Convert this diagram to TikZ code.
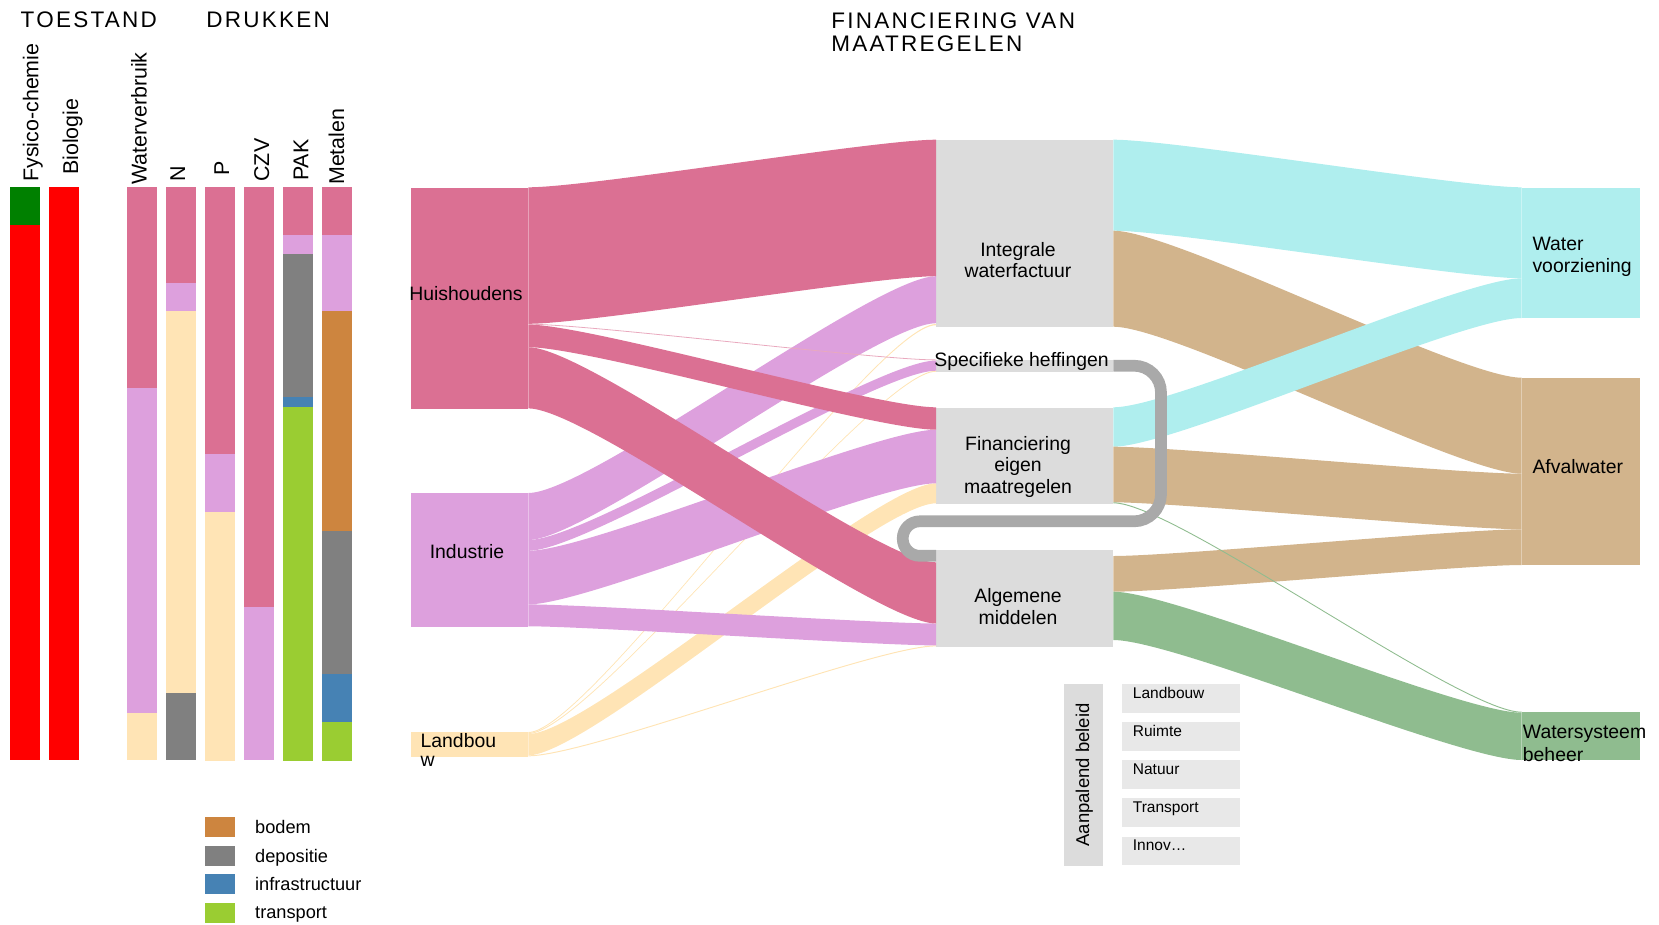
\documentclass[tikz,border=0pt]{standalone}
\usepackage{fontspec}
\setmainfont{Liberation Sans}
\newfontfamily\headfont[LetterSpace=10]{Liberation Sans}
\usetikzlibrary{calc}
\definecolor{huis}{HTML}{DB7093}
\definecolor{indu}{HTML}{DDA0DD}
\definecolor{landb}{HTML}{FFE4B5}
\definecolor{midgrey}{HTML}{DCDCDC}
\definecolor{lightbox}{HTML}{E8E8E8}
\definecolor{loopgrey}{HTML}{A9A9A9}
\definecolor{watv}{HTML}{AFEEEE}
\definecolor{afvw}{HTML}{D2B48C}
\definecolor{wsys}{HTML}{8FBC8F}
\definecolor{goed}{HTML}{008000}
\definecolor{slecht}{HTML}{FF0000}
\definecolor{bodem}{HTML}{CD853F}
\definecolor{depo}{HTML}{808080}
\definecolor{infra}{HTML}{4682B4}
\definecolor{transp}{HTML}{9ACD32}
\tikzstyle{sankey}=[inner sep=0pt, anchor=north west, minimum width=117.5pt]
\tikzstyle{midbox}=[inner sep=0pt, anchor=north west, minimum width=177pt, fill=midgrey]
\tikzstyle{endbox}=[inner sep=0pt, anchor=north west, minimum width=118.5pt]
\tikzstyle{lbl}=[inner sep=0pt, font=\fontsize{19.4}{21.7}\selectfont]
\tikzstyle{barlbl}=[inner sep=0pt, rotate=90, anchor=base west, font=\fontsize{21.4}{24}\selectfont]
\tikzstyle{heading}=[inner sep=0pt, align=left, font=\headfont\fontsize{22.5}{23.4}\selectfont]
\tikzstyle{legbox}=[inner sep=0pt, anchor=north west, minimum width=30pt, minimum height=20pt]
\tikzstyle{legtxt}=[inner sep=0pt, anchor=base west, font=\fontsize{18.2}{20}\selectfont]
\tikzstyle{polbox}=[inner sep=0pt, anchor=north west, minimum width=118.3pt, minimum height=28.5pt, fill=lightbox]
\tikzstyle{poltxt}=[inner sep=0pt, anchor=base west, font=\fontsize{15.5}{17}\selectfont]
\tikzstyle{loopline}=[draw=loopgrey, line width=11.7pt]
% colour, source, top, bottom, target, top, bottom
\newcommand{\sflow}[7]{%
  \fill[#1] let \p1=(#2.north east), \p2=(#5.north west), \n1={0.15*(\x2-\x1)} in
    ({\x1},{\y1-#3}) .. controls ({\x1+\n1},{\y1-#3}) and ({\x2-\n1},{\y2-#6}) .. ({\x2},{\y2-#6})
    -- ({\x2},{\y2-#7}) .. controls ({\x2-\n1},{\y2-#7}) and ({\x1+\n1},{\y1-#4}) .. ({\x1},{\y1-#4}) -- cycle;}

\begin{document}
\begin{tikzpicture}[x=1pt, y=-1pt]
\useasboundingbox (0,0) rectangle (1659,924);

\node[heading, anchor=base west] at (20.5,27.5) (toe) {TOESTAND};
\node[heading, anchor=base west] at (206.2,27.5) (dru) {DRUKKEN};
\node[heading, anchor=north west] at (831.2,12.4) (fin) {FINANCIERING VAN\\MAATREGELEN};

\fill[goed] (10,186.8) rectangle (40,224.7);
\fill[slecht] (10,224.7) rectangle (40,760);
\fill[slecht] (49,186.8) rectangle (79,760);
\fill[huis] (127,186.8) rectangle (157,388.1);
\fill[indu] (127,388.1) rectangle (157,712.7);
\fill[landb] (127,712.7) rectangle (157,760);
\fill[huis] (166,186.8) rectangle (196,282.9);
\fill[indu] (166,282.9) rectangle (196,310.8);
\fill[landb] (166,310.8) rectangle (196,692.8);
\fill[depo] (166,692.8) rectangle (196,760);
\fill[huis] (205,186.8) rectangle (235,454);
\fill[indu] (205,454) rectangle (235,511.7);
\fill[landb] (205,511.7) rectangle (235,760.5);
\fill[huis] (244,186.8) rectangle (274,606.7);
\fill[indu] (244,606.7) rectangle (274,760);
\fill[huis] (283,186.8) rectangle (313,235);
\fill[indu] (283,235) rectangle (313,254.2);
\fill[depo] (283,254.2) rectangle (313,397);
\fill[infra] (283,397) rectangle (313,406.9);
\fill[transp] (283,406.9) rectangle (313,760.5);
\fill[huis] (322,186.8) rectangle (352,235);
\fill[indu] (322,235) rectangle (352,310.8);
\fill[bodem] (322,310.8) rectangle (352,530.9);
\fill[depo] (322,530.9) rectangle (352,674);
\fill[infra] (322,674) rectangle (352,722.2);
\fill[transp] (322,722.2) rectangle (352,760.5);

\node[barlbl] at (38.3,181.7) (b1) {Fysico-chemie};
\node[barlbl] at (78,175) (b2) {Biologie};
\node[barlbl] at (146.7,185) (b3) {Waterverbruik};
\node[barlbl] at (185,181.7) (b4) {N};
\node[barlbl] at (229,176) (b5) {P};
\node[barlbl] at (269,181.7) (b6) {CZV};
\node[barlbl] at (308.3,181) (b7) {PAK};
\node[barlbl] at (344,185) (b8) {Metalen};

\node[legbox, fill=bodem] at (205,816.7) (lg1) {};
\node[legbox, fill=depo] at (205,846) (lg2) {};
\node[legbox, fill=infra] at (205,874) (lg3) {};
\node[legbox, fill=transp] at (205,903) (lg4) {};
\node[legtxt] at (255,833.3) (lt1) {bodem};
\node[legtxt] at (255,862.3) (lt2) {depositie};
\node[legtxt] at (255,890.7) (lt3) {infrastructuur};
\node[legtxt] at (255,918.3) (lt4) {transport};

\node[sankey, fill=huis, minimum height=221.1pt] at (410.5,187.3) (hh) {};
\node[sankey, fill=indu, minimum height=133.3pt] at (410.5,493) (ind) {};
\node[sankey, fill=landb, minimum height=24.3pt] at (410.5,732) (lb) {};
\node[midbox, minimum height=187pt] at (936,139.7) (iwf) {};
\node[midbox, minimum height=12.2pt] at (936,359.5) (spec) {};
\node[midbox, minimum height=96pt] at (936,407.3) (fem) {};
\node[midbox, minimum height=97pt] at (936,550) (alg) {};
\node[endbox, fill=watv, minimum height=130.7pt] at (1521.5,187.3) (wv) {};
\node[endbox, fill=afvw, minimum height=187.3pt] at (1521.5,377.7) (afv) {};
\node[endbox, fill=wsys, minimum height=48.3pt] at (1521.5,711.7) (wsb) {};

\sflow{watv}{iwf}{0}{91}{wv}{0}{91}
\sflow{afvw}{iwf}{91}{187}{afv}{0}{96}
\sflow{watv}{fem}{0}{39.4}{wv}{91}{130.7}
\sflow{afvw}{fem}{39.4}{95}{afv}{96}{151.6}
\sflow{afvw}{alg}{6}{41.7}{afv}{151.6}{187.3}
\sflow{wsys}{alg}{41.7}{90}{wsb}{1}{48.3}
\sflow{wsys}{fem}{95}{96}{wsb}{0}{1}
\sflow{landb}{lb}{0}{1}{iwf}{184.3}{185.5}
\sflow{landb}{lb}{1}{2}{spec}{11.2}{12.2}
\sflow{landb}{lb}{2}{23.3}{fem}{76}{96}
\sflow{landb}{lb}{23.3}{24.3}{alg}{95.4}{96.4}
\sflow{indu}{ind}{0}{47}{iwf}{136.5}{183.5}
\sflow{indu}{ind}{47}{57.8}{spec}{1}{11.2}
\sflow{indu}{ind}{57.8}{111.4}{fem}{22.4}{76}
\sflow{indu}{ind}{111.4}{133.3}{alg}{73.5}{95.4}
\sflow{huis}{hh}{0}{136.5}{iwf}{0}{136.5}
\sflow{huis!60}{hh}{136.5}{137.3}{spec}{0}{0.8}
\sflow{huis}{hh}{137.3}{159.9}{fem}{0}{22.4}
\sflow{huis}{hh}{159.9}{221.1}{alg}{12.3}{73.5}

\draw[loopline] (spec.east) [rounded corners=27pt] -- (1161,365.6) -- (1161,521.3)
  [rounded corners=17pt] -- (902.75,521.3) -- (902.75,555.8) -- ($(alg.north west)+(0,5.8)$);

\node[lbl, anchor=base] at (466,300) (hh-t) {Huishoudens};
\node[lbl, anchor=base] at (467,558.4) (ind-t) {Industrie};
\node[lbl, anchor=north west, align=left, font=\fontsize{19.4}{19.4}\selectfont] at (420.4,733.3) (lb-t) {Landbou\\w};
\node[lbl, anchor=north, align=center] at (1018,242) (iwf-t) {Integrale\\waterfactuur};
\node[lbl, anchor=base] at (1021.5,366.7) (spec-t) {Specifieke heffingen};
\node[lbl, anchor=north, align=center] at (1018,436) (fem-t) {Financiering\\eigen\\maatregelen};
\node[lbl, anchor=north, align=center] at (1018,588.5) (alg-t) {Algemene\\middelen};
\node[lbl, anchor=north west, align=left, font=\fontsize{19.4}{22.2}\selectfont] at (1532.3,236.8) (wv-t) {Water\\voorziening};
\node[lbl, anchor=base west] at (1532.3,473) (afv-t) {Afvalwater};
\node[lbl, anchor=north west, align=left, font=\fontsize{19.4}{22.8}\selectfont] at (1522.7,725.2) (wsb-t) {Watersysteem\\beheer};

\node[inner sep=0pt, anchor=north west, minimum width=39.4pt, minimum height=181.7pt, fill=midgrey] at (1063.3,684) (ab) {};
\node[inner sep=0pt, rotate=90, anchor=base west, font=\fontsize{18.5}{20}\selectfont] at (1089,846.7) (ab-t) {Aanpalend beleid};
\node[polbox] at (1121.7,684) (p1) {};
\node[polbox] at (1121.7,722) (p2) {};
\node[polbox] at (1121.7,760) (p3) {};
\node[polbox] at (1121.7,798) (p4) {};
\node[polbox] at (1121.7,836.7) (p5) {};
\node[poltxt] at (1132.7,698.3) (p1-t) {Landbouw};
\node[poltxt] at (1132.7,736.7) (p2-t) {Ruimte};
\node[poltxt] at (1132.7,774.7) (p3-t) {Natuur};
\node[poltxt] at (1132.7,812.7) (p4-t) {Transport};
\node[poltxt] at (1132.7,850) (p5-t) {Innov…};
\end{tikzpicture}
\end{document}
